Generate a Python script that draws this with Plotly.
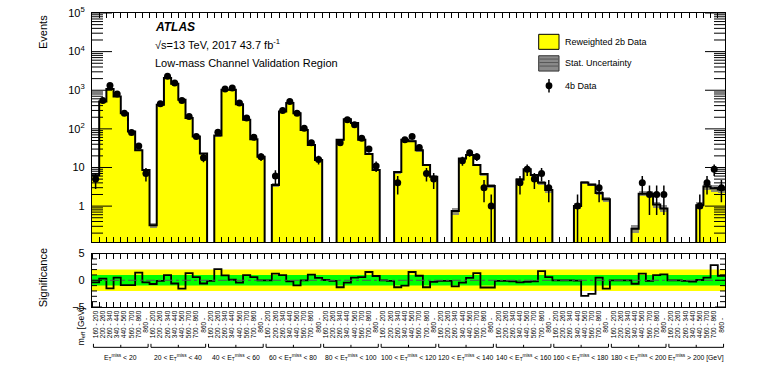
import numpy as np
import plotly.graph_objects as go

# bins: 11 MET slices x 8 m_eff slices
mass_bins = ["160 - 200", "200 - 260", "260 - 340", "340 - 440",
             "440 - 560", "560 - 700", "700 - 860", "860 -\u00a0\u00a0\u00a0\u00a0"]
met_labels = [
    "E<sub>T</sub><sup>miss</sup> < 20",
    "20 < E<sub>T</sub><sup>miss</sup> < 40",
    "40 < E<sub>T</sub><sup>miss</sup> < 60",
    "60 < E<sub>T</sub><sup>miss</sup> < 80",
    "80 < E<sub>T</sub><sup>miss</sup> < 100",
    "100 < E<sub>T</sub><sup>miss</sup> < 120",
    "120 < E<sub>T</sub><sup>miss</sup> < 140",
    "140 < E<sub>T</sub><sup>miss</sup> < 160",
    "160 < E<sub>T</sub><sup>miss</sup> < 180",
    "180 < E<sub>T</sub><sup>miss</sup> < 200",
    "E<sub>T</sub><sup>miss</sup> > 200 [GeV]",
]

# reweighted 2b prediction
pred_2b = [
    6.3, 510, 1070, 690, 255, 85, 28, 8.6,
    0.32, 420, 2090, 1480, 565, 190, 63, 23,
    0, 67, 1030, 1030, 436, 171, 54, 19,
    0, 3.5, 282, 465, 255, 94, 38, 15.6,
    0, 0, 52, 178, 141, 52, 22.4, 8.6,
    0, 0, 7.6, 52, 48, 28, 11.6, 5.8,
    0, 0, 0.75, 17, 21, 11.6, 6.8, 3.3,
    0, 0, 0, 4.9, 9, 6.4, 4.0, 2.6,
    0, 0, 0, 1.0, 4.1, 3.6, 2.2, 1.5,
    0, 0, 0, 0.26, 2.1, 2.1, 1.1, 0.87,
    0, 0, 0, 0, 1.06, 3.2, 2.9, 2.7,
]

# 4b data
data_4b = [
    5, 540, 1320, 800, 255, 80, 36, 7,
    0, 445, 2290, 1540, 540, 209, 63, 18,
    0, 82, 1070, 1140, 465, 190, 61, 19,
    0, 6, 300, 510, 255, 104, 44, 16,
    0, 0, 44, 171, 127, 57, 30, 11,
    0, 0, 4, 52, 63, 33, 7, 5,
    0, 0, 0, 15, 24, 19, 3, 1,
    0, 0, 0, 4, 9, 5, 7, 3,
    0, 0, 0, 1, 0, 0, 3, 0,
    0, 0, 0, 0, 4, 2, 2, 2,
    0, 0, 0, 0, 1, 4, 9, 3,
]

# relative stat. uncertainty of the prediction
stat_rel = [
    0.10, 0.02, 0.02, 0.02, 0.02, 0.03, 0.04, 0.06,
    0.15, 0.02, 0.02, 0.02, 0.02, 0.03, 0.04, 0.05,
    0.00, 0.03, 0.02, 0.02, 0.02, 0.03, 0.04, 0.05,
    0.00, 0.12, 0.02, 0.02, 0.02, 0.03, 0.04, 0.06,
    0.00, 0.00, 0.04, 0.03, 0.03, 0.04, 0.05, 0.07,
    0.00, 0.00, 0.08, 0.04, 0.04, 0.05, 0.07, 0.09,
    0.00, 0.00, 0.20, 0.06, 0.06, 0.07, 0.09, 0.12,
    0.00, 0.00, 0.00, 0.10, 0.08, 0.09, 0.12, 0.14,
    0.00, 0.00, 0.00, 0.18, 0.10, 0.10, 0.14, 0.16,
    0.00, 0.00, 0.00, 0.22, 0.14, 0.14, 0.18, 0.20,
    0.00, 0.00, 0.00, 0.00, 0.20, 0.16, 0.18, 0.20,
]

significance = [
    -0.4, 0.3, -1.5, 0.5, -0.9, -0.9, 1.45, -0.4,
    -0.7, -0.1, 0.95, -0.6, -1.55, 1.35, 0.6, -0.6,
    -0.1, 2.1, 0.9, 0.1, -0.45, 0.95, 0.6, 0.0,
    0.0, 1.25, 0.95, -0.2, -0.95, 0.0, 1.05, 0.45,
    0.05, -0.1, -1.3, -0.45, 0.5, 0.6, 1.55, 0.8,
    0.0, -0.1, -1.3, -1.0, 1.55, 0.85, -1.3, -0.3,
    -0.1, -0.1, -1.15, -0.45, 0.45, 1.35, -1.35, -1.35,
    -0.1, -0.1, -0.2, -0.4, -0.3, -0.2, 1.7, 0.6,
    0.0, 0.0, 0.0, -0.05, -2.9, -2.55, 0.5, -1.55,
    0.0, 0.0, 0.0, -0.65, 1.25, -0.1, 0.95, 1.1,
    0.0, 0.0, -0.1, -0.25, 0.05, 0.5, 2.85, 0.85,
]

n_bins = len(pred_2b)
edges = np.arange(n_bins + 1)
centers = edges[:-1] + 0.5
pred = np.array(pred_2b, dtype=float)
obs = np.array(data_4b, dtype=float)
rel = np.array(stat_rel)

W, H = 764, 367
L, R, T, B = 92, 725, 13, 306.7
LOG_RANGE = [-0.935, 5.0]
UP_DOM = [(B - 242) / (B - T), 1]
LO_DOM = [0, (B - 253.3) / (B - T)]


def px(x):
    return (x - L) / (R - L)


def py(y):
    return (B - y) / (B - T)


def up_y(v):
    # paper coordinate of a value on the upper log axis
    f = (np.log10(v) - LOG_RANGE[0]) / (LOG_RANGE[1] - LOG_RANGE[0])
    return UP_DOM[0] + f * (UP_DOM[1] - UP_DOM[0])


def lo_y(v):
    return LO_DOM[0] + (v + 5) / 10 * (LO_DOM[1] - LO_DOM[0])


fig = go.Figure()

# yellow prediction
fig.add_trace(go.Bar(
    x=centers, y=[v if v > 0 else None for v in pred], width=1,
    marker=dict(color="#ffff00", line_width=0),
    xaxis="x", yaxis="y", showlegend=False))
# stat band
fig.add_trace(go.Bar(
    x=centers, base=pred * (1 - rel), y=[2 * p * u if p > 0 and u > 0 else None for p, u in zip(pred, rel)],
    width=1, marker=dict(color="#7f7f7f", line_width=0, opacity=0.85),
    xaxis="x", yaxis="y", showlegend=False))
# step outline
step_y = [v if v > 0 else 1e-3 for v in pred]
fig.add_trace(go.Scatter(
    x=edges, y=step_y + [step_y[-1]], mode="lines", line_shape="hv",
    line=dict(color="black", width=2), xaxis="x", yaxis="y", showlegend=False))
# data points
err = np.sqrt(obs)
fig.add_trace(go.Scatter(
    x=centers, y=[v if v > 0 else None for v in obs], mode="markers",
    marker=dict(color="black", size=7),
    error_y=dict(type="data", array=err, arrayminus=np.minimum(err, obs * 0.9),
                 color="black", thickness=1.5, width=0),
    xaxis="x", yaxis="y", showlegend=False))

# significance
fig.add_trace(go.Scatter(
    x=edges, y=significance + [significance[-1]], mode="lines", line_shape="hv",
    line=dict(color="black", width=1.8), xaxis="x2", yaxis="y2", showlegend=False))

shapes = [
    dict(type="rect", xref="x2", yref="y2", x0=0, x1=n_bins, y0=-2, y1=2,
         fillcolor="#ffff00", line_width=0, layer="below"),
    dict(type="rect", xref="x2", yref="y2", x0=0, x1=n_bins, y0=-1, y1=1,
         fillcolor="#00ff00", line_width=0, layer="below"),
    dict(type="line", xref="x2", yref="y2", x0=0, x1=n_bins, y0=0, y1=0,
         line=dict(color="#555555", width=1, dash="dashdot")),
]


def ytick(yp, length):
    # inside tick on both left and right frame edges
    d = length / (R - L)
    for x0, x1 in [(0, d), (1 - d, 1)]:
        shapes.append(dict(type="line", xref="paper", yref="paper", x0=x0, x1=x1,
                           y0=yp, y1=yp, line=dict(color="black", width=1)))


for e in range(0, 6):
    ytick(up_y(10.0 ** e), 20)
for e in range(-1, 5):
    for m in range(2, 10):
        v = m * 10.0 ** e
        if LOG_RANGE[0] < np.log10(v) < LOG_RANGE[1]:
            ytick(up_y(v), 11)
for v in range(-5, 6):
    ytick(lo_y(v), 10 if v % 5 == 0 else 5)

# group brackets
yb, yt = py(347), py(343.5)
for k in range(len(met_labels)):
    a, b = 8 * k + 0.2, 8 * k + 7.8
    for seg in [(a, yb, b, yb), (a, yb, a, yt), (b, yb, b, yt), (8 * k + 4, yb, 8 * k + 4, py(344.5))]:
        shapes.append(dict(type="line", xref="x2", yref="paper", x0=seg[0], y0=seg[1],
                           x1=seg[2], y1=seg[3], line=dict(color="black", width=1)))

# legend
shapes.append(dict(type="rect", xref="paper", yref="paper", x0=px(538.7), x1=px(559),
                   y0=py(49.3), y1=py(34.3), fillcolor="#ffff00", line=dict(color="black", width=1)))
shapes.append(dict(type="rect", xref="paper", yref="paper", x0=px(538.7), x1=px(559),
                   y0=py(71), y1=py(55.7), fillcolor="#8a8a8a", line=dict(color="#333333", width=1)))
for yy in [59, 62.5, 66]:
    shapes.append(dict(type="line", xref="paper", yref="paper", x0=px(539.5), x1=px(558.2),
                       y0=py(yy), y1=py(yy), line=dict(color="#555555", width=1)))
shapes.append(dict(type="line", xref="paper", yref="paper", x0=px(549), x1=px(549),
                   y0=py(79), y1=py(92.5), line=dict(color="black", width=1.5)))
shapes.append(dict(type="circle", xref="paper", yref="paper", x0=px(545.6), x1=px(552.4),
                   y0=py(89.1), y1=py(82.3), fillcolor="black", line=dict(color="black", width=0)))

annotations = [
    dict(text="<b><i>ATLAS</i></b>", x=px(153), y=py(27), font=dict(size=12)),
    dict(text="√s=13 TeV, 2017 43.7 fb<sup>-1</sup>", x=px(153), y=py(44), font=dict(size=11)),
    dict(text="Low-mass Channel Validation Region", x=px(153), y=py(63), font=dict(size=11)),
    dict(text="Reweighted 2b Data", x=px(563), y=py(41.5), font=dict(size=9)),
    dict(text="Stat. Uncertainty", x=px(563), y=py(63), font=dict(size=9)),
    dict(text="4b Data", x=px(563), y=py(86), font=dict(size=9)),
]
for a in annotations:
    a.update(xref="paper", yref="paper", xanchor="left", yanchor="middle", showarrow=False)

annotations += [
    dict(text="Events", x=px(43), y=py(13), xref="paper", yref="paper", textangle=-90,
         xanchor="center", yanchor="top", showarrow=False, font=dict(size=11)),
    dict(text="Significance", x=px(43), y=py(278), xref="paper", yref="paper", textangle=-90,
         xanchor="center", yanchor="middle", showarrow=False, font=dict(size=11)),
    dict(text="m<sub>eff</sub> [GeV]", x=px(81), y=py(326), xref="paper", yref="paper", textangle=-90,
         xanchor="center", yanchor="middle", showarrow=False, font=dict(size=8.5)),
]
for k, lab in enumerate(met_labels):
    annotations.append(dict(text=lab, x=8 * k + 4, y=py(357), xref="x2", yref="paper",
                            xanchor="center", yanchor="middle", showarrow=False, font=dict(size=6.8)))

axis_common = dict(showline=True, linecolor="black", linewidth=1.2, mirror="allticks",
                   showgrid=False, zeroline=False, tickcolor="black", automargin=False)

fig.update_layout(
    width=W, height=H,
    margin=dict(l=L, r=W - R, t=T, b=H - B),
    paper_bgcolor="white", plot_bgcolor="white",
    font=dict(family="Liberation Sans, Arial, sans-serif", color="black", size=11),
    barmode="overlay", bargap=0,
    xaxis=dict(domain=[0, 1], range=[0, n_bins], anchor="y", tickmode="linear", tick0=0, dtick=1,
               ticks="inside", ticklen=5, showticklabels=False, **axis_common),
    yaxis=dict(domain=UP_DOM, type="log", range=LOG_RANGE, anchor="x",
               tickmode="array", tickvals=[1, 10, 100, 1000, 1e4, 1e5],
               ticktext=["1", "10", "10<sup>2</sup>", "10<sup>3</sup>", "10<sup>4</sup>", "10<sup>5</sup>"],
               ticks="", ticklabelstandoff=4, **axis_common),
    xaxis2=dict(domain=[0, 1], range=[0, n_bins], anchor="y2", tickmode="array",
                tickvals=centers, ticktext=mass_bins * len(met_labels), tickangle=-90,
                ticks="", tickfont=dict(size=6.5),
                minor=dict(ticks="inside", ticklen=5, tick0=0, dtick=1, tickcolor="black"),
                **axis_common),
    yaxis2=dict(domain=LO_DOM, range=[-5, 5], anchor="x2",
                tickmode="array", tickvals=[-5, 0, 5], ticks="", ticklabelstandoff=4,
                **axis_common),
    shapes=shapes, annotations=annotations,
)

fig.write_html("out.html", config={"displayModeBar": False},
               post_script="document.body.style.margin='0';")
